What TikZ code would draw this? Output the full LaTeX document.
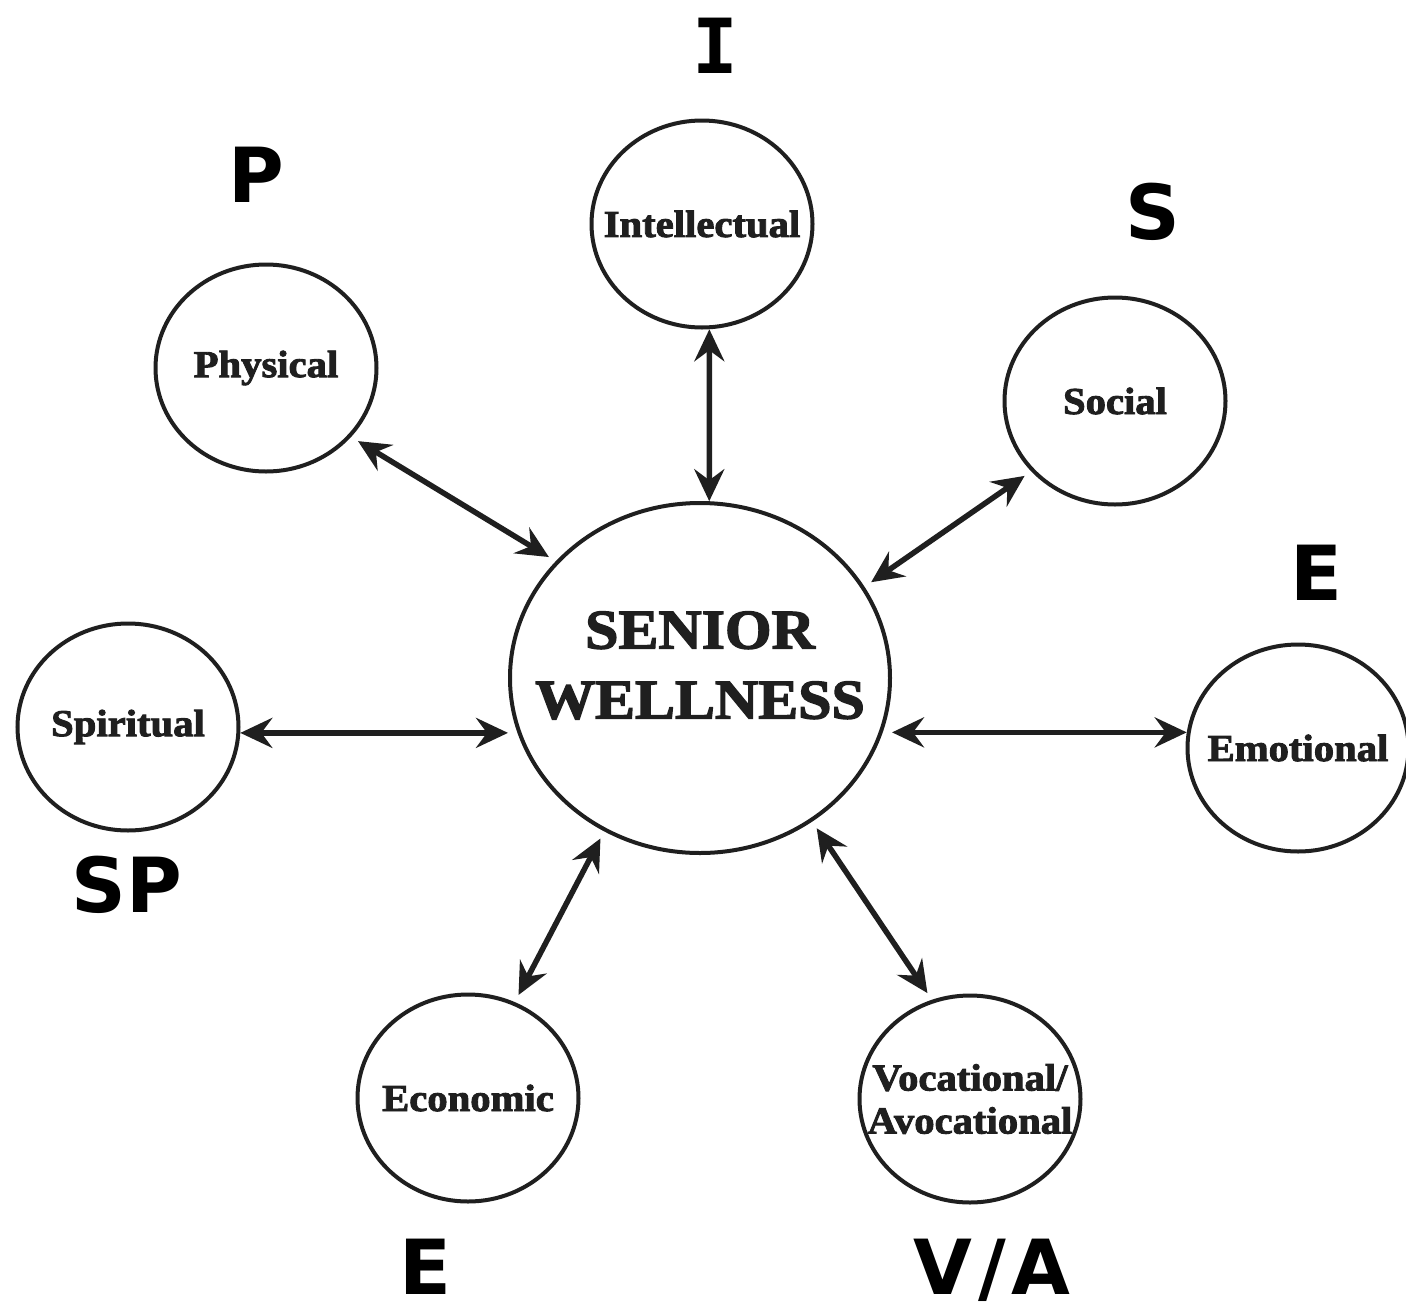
\documentclass[tikz,border=0pt]{standalone}
\usepackage{fontspec}
\setmainfont{Liberation Serif}[FakeStretch=1.07,BoldFeatures={FakeBold=2.4}]
\newfontfamily\tagfont{DejaVu Sans}
\newfontfamily\tagmono{DejaVu Sans Mono}
\usetikzlibrary{arrows.meta,shapes.geometric}
\tikzset{
  facet/.style={ellipse,draw=black!88,line width=4pt,minimum width=221pt,minimum height=207pt,inner sep=-45pt,align=center,text=black!88,font=\bfseries\fontsize{38}{43}\selectfont},
  hub/.style={facet,minimum width=380pt,minimum height=350pt,font=\bfseries\fontsize{56}{70}\selectfont},
  tag/.style={anchor=base,inner sep=0pt,font=\tagfont\bfseries\fontsize{76}{76}\selectfont},
  link/.style={{Stealth[length=32pt,width=30pt,inset=11pt]}-{Stealth[length=32pt,width=30pt,inset=11pt]},line width=5.5pt,draw=black!88},
  gap/.style={shorten <=8pt,shorten >=8pt}
}
\begin{document}
\begin{tikzpicture}[x=1pt,y=-1pt]
\useasboundingbox (0,0) rectangle (1406,1312);
\node[hub] (senior) at (700,678) {SENIOR\\WELLNESS\rule[-26pt]{0pt}{26pt}};
\node[facet] (intel) at (702,224) {Intellectual};
\node[facet] (phys) at (266,368) {Physical};
\node[facet] (soc) at (1115,401) {Social};
\node[facet] (spir) at (128,727) {Spiritual};
\node[facet] (emo) at (1298,748) {Emotional};
\node[facet] (econ) at (468,1098) {Economic};
\node[facet] (voc) at (970,1099) {Vocational/\\Avocational};
\node[tag,font=\tagmono\bfseries\fontsize{76}{76}\selectfont] (tI) at (715,73) {I};
\node[tag] (tP) at (256,202) {P};
\node[tag] (tS) at (1153,239) {S};
\node[tag] (tE) at (1316,600) {E};
\node[tag] (tSP) at (127,912) {SP};
\node[tag] (tEc) at (425,1294) {E};
\node[tag] (tVA) at (992,1294) {V\kern6pt/\kern6pt A};
\draw[link] (intel.-86) -- (senior.87);
\draw[link,gap] (phys.-39) -- (senior.141);
\draw[link,gap] (soc.-140) -- (senior.29);
\draw[link] (spir.-3) -- (spir.-3 -| senior.west);
\draw[link] (emo.172) -- (emo.172 -| senior.east);
\draw[link,gap] (econ.64) -- (senior.238);
\draw[link,gap] (voc.111) -- (senior.-52);
\end{tikzpicture}
\end{document}
